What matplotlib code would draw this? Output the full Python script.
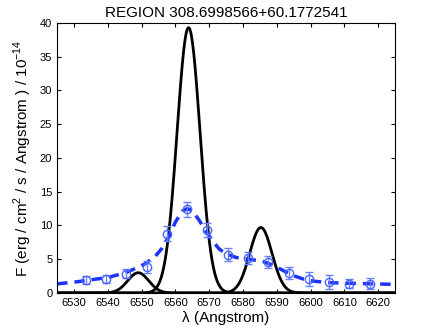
import numpy as np
import matplotlib
matplotlib.use("Agg")
import matplotlib.pyplot as plt

plt.rcParams['font.family'] = ['Liberation Sans', 'DejaVu Sans']
plt.rcParams['mathtext.fontset'] = 'custom'
plt.rcParams['mathtext.rm'] = 'Liberation Sans'

# measured fluxes (blue points)
wave_obs = [6533.5, 6539.5, 6545.5, 6551.5, 6557.5, 6563.5, 6569.5, 6575.5,
            6581.5, 6587.5, 6593.5, 6599.5, 6605.5, 6611.5, 6617.5]
flux_obs = [1.95, 2.1, 2.85, 3.85, 8.8, 12.4, 9.3, 5.7,
            5.2, 4.6, 2.95, 2.1, 1.65, 1.4, 1.4]
flux_err = [0.6, 0.6, 0.65, 0.95, 1.05, 1.1, 1.0, 1.0,
            0.85, 0.9, 0.85, 1.0, 1.0, 0.6, 0.8]

# smoothed fit (blue dashed)
wave_fit = [6525, 6530, 6535, 6540, 6545, 6548, 6551, 6554, 6556, 6558, 6560,
            6562, 6563.5, 6565, 6567, 6569, 6571, 6573, 6575, 6578, 6582, 6586,
            6589, 6592, 6595, 6598, 6601, 6605, 6610, 6615, 6620, 6625]
flux_fit = [1.35, 1.6, 1.95, 2.3, 2.95, 3.6, 4.3, 5.4, 6.6, 8.3, 10.5,
            12.1, 12.5, 12.2, 10.8, 9.2, 7.7, 6.5, 5.8, 5.25, 5.0, 4.65,
            4.1, 3.3, 2.55, 2.05, 1.75, 1.55, 1.45, 1.4, 1.33, 1.28]

# emission lines (black): [NII] 6548, Halpha, [NII] 6583
line_center = [6549.0, 6563.9, 6585.3]
line_peak = [3.0, 39.3, 9.7]
line_sigma = [3.1, 3.4, 3.3]

lam = np.linspace(6525, 6625, 800)

fig = plt.figure(figsize=(4.36, 3.32), dpi=100)
ax = fig.add_axes([0.131, 0.1175, 0.775, 0.8135])

for c, a, s in zip(line_center, line_peak, line_sigma):
    ax.plot(lam, a * np.exp(-0.5 * ((lam - c) / s) ** 2), color='black', lw=2)

ax.plot(wave_fit, flux_fit, color='#1a33ff', lw=2.5, ls=(0, (3, 2)))
ax.errorbar(wave_obs, flux_obs, yerr=flux_err, fmt='o', mfc='none',
            mec='#4d66ff', ecolor='#6680ff', ms=6, mew=1, elinewidth=1,
            capsize=3)

ax.set_xlim(6525, 6625)
ax.set_ylim(0, 40)
ax.set_xticks(np.arange(6530, 6621, 10))
ax.set_yticks(np.arange(0, 41, 5))
ax.tick_params(direction='in', top=True, right=True, labelsize=8, length=3)
ax.set_xlabel('λ (Angstrom)', fontsize=11, labelpad=2)
ax.set_ylabel('F (erg / cm$^2$ / s / Angstrom ) / 10$^{-14}$', fontsize=11,
              labelpad=4)
ax.set_title('REGION 308.6998566+60.1772541', fontsize=11, pad=4)

plt.savefig("out.png", dpi=100)
